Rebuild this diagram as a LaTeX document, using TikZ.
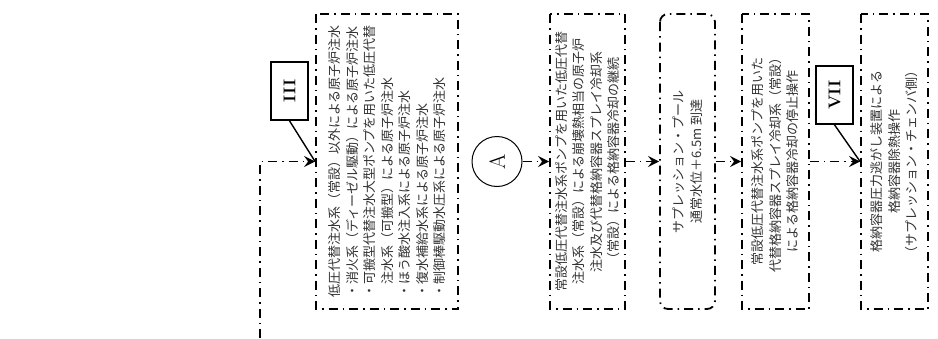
\documentclass[tikz,border=0pt]{standalone}
\usepackage{fontspec}
\usepackage{xcolor}
\usepackage{tikz}
\usetikzlibrary{arrows.meta}
\newfontfamily\jpfont{Noto Sans CJK JP}

\tikzset{
  chainline/.style={line width=1.8pt, dash pattern=on 9pt off 5pt on 1.5pt off 5pt},
  flowbox/.style={draw, chainline, rotate=90, minimum width=295pt, inner sep=0pt,
    align=center, text=black!80, font=\jpfont\fontsize{13}{17.5}\selectfont},
  markbox/.style={draw, line width=1.6pt, fill=white, rotate=90, minimum width=58pt,
    minimum height=37pt, inner sep=0pt, font=\bfseries\fontsize{17}{17}\selectfont},
  flowarrow/.style={chainline, -{Stealth[length=11pt,width=11pt,inset=4pt]}},
  callline/.style={line width=1.4pt},
}

\begin{document}
\begin{tikzpicture}[x=1pt,y=-1pt]
\fill[white] (0,0) rectangle (938,338);
\useasboundingbox (0,0) rectangle (938,338);
% boxes are turned by 90 degrees: north = left side, south = right side
\node[flowbox, minimum height=142pt, align=left] (low) at (387,161.5)
  {低圧代替注水系（常設）以外による原子炉注水\\
   ・消火系（ディーゼル駆動）による原子炉注水\\
   ・可搬型代替注水大型ポンプを用いた低圧代替\\
   \hphantom{・}注水系（可搬型）による原子炉注水\\
   ・ほう酸水注入系による原子炉注水\\
   ・復水補給水系による原子炉注水\\
   ・制御棒駆動水圧系による原子炉注水};
\node[circle, draw, line width=1pt, rotate=90, minimum size=50pt, inner sep=0pt,
  font=\fontsize{22}{22}\selectfont] (circA) at (497,161.5) {A};
\node[flowbox, minimum height=75pt] (hold) at (587.5,161.5)
  {常設低圧代替注水系ポンプを用いた低圧代替\\
   注水系（常設）による崩壊熱相当の原子炉\\
   注水及び代替格納容器スプレイ冷却系\\
   （常設）による格納容器冷却の継続};
\node[flowbox, minimum height=55pt, rounded corners=8pt] (pool) at (687.5,161.5)
  {サプレッション・プール\\
   通常水位＋6.5m 到達};
\node[flowbox, minimum height=67pt] (stop) at (775.5,161.5)
  {常設低圧代替注水系ポンプを用いた\\
   代替格納容器スプレイ冷却系（常設）\\
   による格納容器冷却の停止操作};
\node[flowbox, minimum height=67pt] (vent) at (894.5,161.5)
  {格納容器圧力逃がし装置による\\
   格納容器除熱操作\\
   （サプレッション・チェンバ側）};
\node[markbox] (mark3) at (289.5,91) {III};
\node[markbox] (mark7) at (834.5,95) {VII};
% flow
\coordinate (feed) at (260,338);
\draw[flowarrow] (feed) |- (low.north);
\draw[flowarrow] (circA.south) -- (hold.north);
\draw[flowarrow] (hold.south) -- (pool.north);
\draw[flowarrow] (pool.south) -- (stop.north);
\draw[flowarrow] (stop.south) -- (vent.north);
% callouts
\draw[callline] (mark3.west) -- (low.north);
\draw[callline] (mark7.west) -- (vent.north);
\end{tikzpicture}
\end{document}
